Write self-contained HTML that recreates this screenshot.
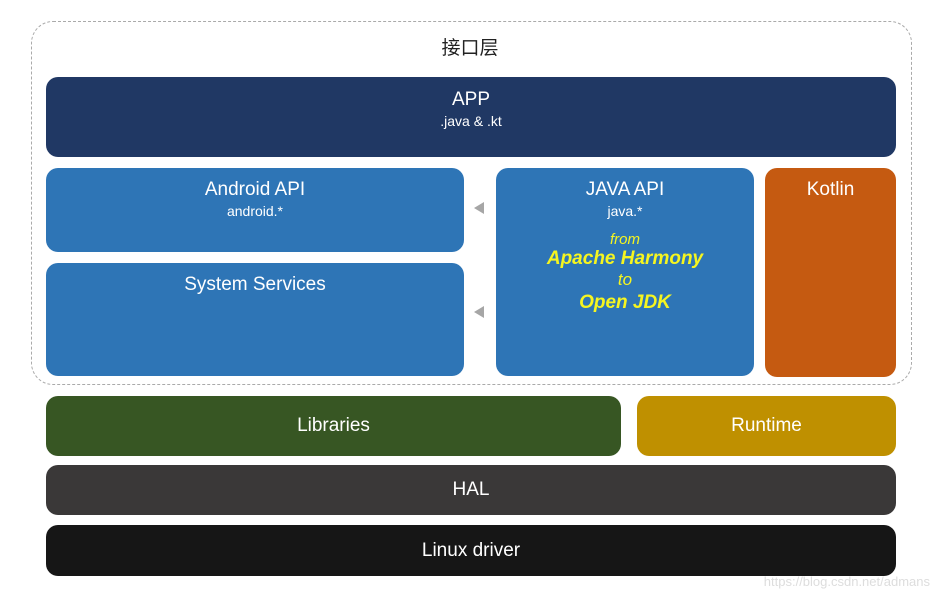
<!DOCTYPE html>
<html><head><meta charset="utf-8"><style>
body{margin:0;width:940px;height:601px;background:#fff;position:relative;overflow:hidden;font-family:"Liberation Sans","Noto Sans CJK SC",sans-serif;}
.b{position:absolute;border-radius:12px;color:#fff;text-align:center;box-sizing:border-box;}
.t{font-size:19px;}
.s{font-size:14px;margin-top:4px;}
.y{color:#f5f520;font-style:italic;}
.tri{position:absolute;width:0;height:0;border-top:6px solid transparent;border-bottom:6px solid transparent;border-right:10px solid #a6a6a6;}
</style></head><body>
<div style="position:absolute;left:31px;top:21px;width:881px;height:364px;border:1px dashed #aaa;border-radius:22px;box-sizing:border-box"></div>
<div style="position:absolute;left:0;width:940px;top:33px;text-align:center;font-size:19px;color:#222;">接口层</div>
<div class="b" style="left:46px;top:77px;width:850px;height:80px;background:#203864;padding-top:12px"><div class="t">APP</div><div class="s" style="margin-top:2px">.java &amp; .kt</div></div>
<div class="b" style="left:46px;top:168px;width:418px;height:84px;background:#2e75b6;padding-top:11px"><div class="t">Android API</div><div class="s" style="margin-top:2px">android.*</div></div>
<div class="b" style="left:46px;top:263px;width:418px;height:113px;background:#2e75b6;padding-top:11px"><div class="t">System Services</div></div>
<div class="b" style="left:496px;top:168px;width:258px;height:208px;background:#2e75b6;padding-top:11px"><div class="t">JAVA API</div><div class="s" style="margin-top:2px">java.*</div>
<div class="y" style="font-size:15px;margin-top:12px">from</div>
<div class="y" style="font-size:19px;font-weight:bold;margin-top:0">Apache Harmony</div>
<div class="y" style="font-size:17px;margin-top:0">to</div>
<div class="y" style="font-size:19px;font-weight:bold;margin-top:2px">Open JDK</div></div>
<div class="b" style="left:765px;top:168px;width:131px;height:209px;background:#c55a11;padding-top:11px"><div class="t">Kotlin</div></div>
<div class="tri" style="left:474px;top:202px"></div>
<div class="tri" style="left:474px;top:306px"></div>
<div class="b" style="left:46px;top:396px;width:575px;height:60px;background:#375623;padding-top:19px"><div class="t">Libraries</div></div>
<div class="b" style="left:637px;top:396px;width:259px;height:60px;background:#bf9000;padding-top:19px"><div class="t">Runtime</div></div>
<div class="b" style="left:46px;top:465px;width:850px;height:50px;background:#3a3838;padding-top:14px"><div class="t">HAL</div></div>
<div class="b" style="left:46px;top:525px;width:850px;height:51px;background:#161616;padding-top:15px"><div class="t">Linux driver</div></div>
<div style="position:absolute;right:10px;top:574px;font-size:13px;color:#ddd">https://blog.csdn.net/admans</div>
</body></html>
